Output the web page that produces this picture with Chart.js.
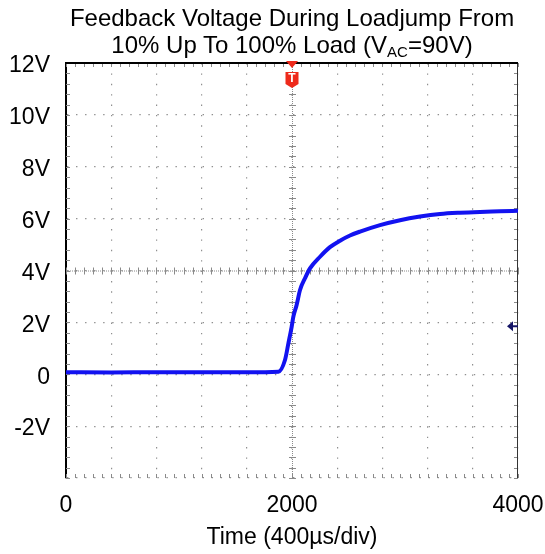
<!DOCTYPE html>
<html>
<head>
<meta charset="utf-8">
<script src="https://cdn.jsdelivr.net/npm/chart.js@4"></script>
<style>
  body { margin: 0; background: #fff; }
  #wrap { position: relative; width: 545px; height: 554px; }
  #title {
    position: absolute; left: -8px; top: 4px; width: 600px;
    text-align: center; white-space: nowrap;
    font-family: "Liberation Sans", Arial, sans-serif; font-size: 24px;
    line-height: 27px; color: #000;
  }
  #title .sub { font-size: 15px; vertical-align: -4px; line-height: 0; }
  canvas { position: absolute; left: 0; top: 0; }
</style>
</head>
<body>
<div id="wrap">
  <canvas id="scope" width="545" height="554"></canvas>
  <div id="title">Feedback Voltage During Loadjump From<br>10% Up To 100% Load (V<span class="sub">AC</span>=90V)</div>
</div>
<script>
const timeValues = [0, 400, 800, 1200, 1600, 1880, 1938, 1968, 1997, 2012, 2041, 2071, 2115, 2159, 2248, 2336, 2425, 2513, 2602, 2779, 2956, 3133, 3310, 3487, 3664, 3841, 4000];
const feedbackVolts = [0.08, 0.07, 0.08, 0.08, 0.08, 0.1, 0.55, 1.19, 1.83, 2.22, 2.67, 3.25, 3.7, 4.08, 4.53, 4.9, 5.15, 5.35, 5.5, 5.75, 5.94, 6.08, 6.18, 6.23, 6.26, 6.28, 6.3];
const xTickLabels = [0, 2000, 4000];
const yTickValues = [-2, 0, 2, 4, 6, 8, 10, 12];
const triggerTime = 2000;
const groundLevel = 1.85;

const fontFamily = '"Liberation Sans", Arial, sans-serif';

// Retícula del osciloscopio: cruz central, marcas de borde y marcadores
const scopePlugin = {
  id: 'scope',
  beforeDatasetsDraw(chart) {
    const { ctx, chartArea: a, scales: { x, y } } = chart;
    const cx = x.getPixelForValue(2000);
    const cy = y.getPixelForValue(4);
    const stepX = (x.getPixelForValue(400) - x.getPixelForValue(0)) / 5;
    const stepY = (y.getPixelForValue(0) - y.getPixelForValue(2)) / 5;
    ctx.save();
    ctx.strokeStyle = '#8a8a8a';
    ctx.lineWidth = 1;
    // cruz central punteada
    ctx.setLineDash([1, 1]);
    ctx.beginPath();
    ctx.moveTo(cx + 0.5, a.top); ctx.lineTo(cx + 0.5, a.bottom);
    ctx.moveTo(a.left, cy + 0.5); ctx.lineTo(a.right, cy + 0.5);
    ctx.stroke();
    ctx.setLineDash([]);
    ctx.beginPath();
    for (let py = a.top; py <= a.bottom + 0.5; py += stepY) {
      const r = Math.round(py) + 0.5;
      ctx.moveTo(cx - 3, r); ctx.lineTo(cx + 4, r);
      ctx.moveTo(a.left, r); ctx.lineTo(a.left + 4, r);
      ctx.moveTo(a.right - 4, r); ctx.lineTo(a.right, r);
    }
    for (let px = a.left; px <= a.right + 0.5; px += stepX) {
      const r = Math.round(px) + 0.5;
      ctx.moveTo(r, cy - 3); ctx.lineTo(r, cy + 4);
      ctx.moveTo(r, a.top); ctx.lineTo(r, a.top + 4);
      ctx.moveTo(r, a.bottom - 4); ctx.lineTo(r, a.bottom);
    }
    ctx.stroke();
    // borde derecho fino
    ctx.strokeStyle = '#333';
    ctx.beginPath();
    ctx.moveTo(a.right - 0.5, a.top); ctx.lineTo(a.right - 0.5, a.bottom);
    ctx.stroke();
    ctx.restore();
  },
  afterDatasetsDraw(chart) {
    const { ctx, chartArea: a, scales: { x, y } } = chart;
    ctx.save();
    // borde superior
    ctx.strokeStyle = '#000';
    ctx.lineWidth = 2;
    ctx.beginPath();
    ctx.moveTo(a.left - 1, a.top); ctx.lineTo(a.right, a.top);
    ctx.stroke();
    // marcador de disparo
    const tx = x.getPixelForValue(triggerTime);
    ctx.fillStyle = '#ee2a1b';
    ctx.beginPath();
    ctx.moveTo(tx - 6, a.top - 2); ctx.lineTo(tx + 6, a.top - 2); ctx.lineTo(tx, a.top + 5);
    ctx.fill();
    ctx.beginPath();
    ctx.moveTo(tx - 6.5, a.top + 9);
    ctx.lineTo(tx + 6.5, a.top + 9);
    ctx.lineTo(tx + 6.5, a.top + 21);
    ctx.lineTo(tx, a.top + 25);
    ctx.lineTo(tx - 6.5, a.top + 21);
    ctx.closePath();
    ctx.fill();
    ctx.fillStyle = '#fff';
    ctx.font = 'bold 12px ' + fontFamily;
    ctx.textAlign = 'center';
    ctx.textBaseline = 'middle';
    ctx.fillText('T', tx, a.top + 16);
    // marcador de nivel de tierra del canal
    const gy = y.getPixelForValue(groundLevel);
    ctx.fillStyle = '#141466';
    ctx.strokeStyle = '#141466';
    ctx.lineWidth = 2;
    ctx.beginPath();
    ctx.moveTo(a.right - 11, gy); ctx.lineTo(a.right - 5, gy - 5); ctx.lineTo(a.right - 5, gy + 5);
    ctx.closePath();
    ctx.fill();
    ctx.beginPath();
    ctx.moveTo(a.right - 6, gy); ctx.lineTo(a.right, gy);
    ctx.stroke();
    ctx.restore();
  }
};

new Chart(document.getElementById('scope').getContext('2d'), {
  type: 'line',
  data: {
    datasets: [{
      data: timeValues.map((t, i) => ({ x: t, y: feedbackVolts[i] })),
      borderColor: 'rgb(18, 18, 240)',
      borderWidth: 4,
      pointRadius: 0,
      cubicInterpolationMode: 'monotone',
      fill: false
    }]
  },
  options: {
    responsive: false,
    animation: false,
    layout: { padding: { top: 63, right: 27, left: 0, bottom: 0 } },
    plugins: { legend: { display: false }, tooltip: { enabled: false } },
    scales: {
      x: {
        type: 'linear', min: 0, max: 4000,
        ticks: {
          stepSize: 400, autoSkip: false, maxRotation: 0, padding: 14,
          color: '#000', font: { size: 23, family: fontFamily },
          callback: v => xTickLabels.includes(v) ? String(v) : ''
        },
        grid: { color: '#8f8f8f', lineWidth: 1.2, drawTicks: false },
        border: { display: false, dash: [1.4, 8.98] },
        title: {
          display: true, text: 'Time (400µs/div)', color: '#000',
          font: { size: 23, family: fontFamily }, padding: { top: 0, bottom: 3 }
        },
        afterFit: s => { s.height = 76; s.paddingRight = 0; s.paddingLeft = 0; }
      },
      y: {
        min: -4, max: 12,
        ticks: {
          stepSize: 2, padding: 16, labelOffset: 3,
          color: '#000', font: { size: 23, family: fontFamily },
          callback: v => yTickValues.includes(v) ? (v === 0 ? '0' : v + 'V') : ''
        },
        grid: { color: '#8f8f8f', lineWidth: 1.2, drawTicks: false },
        border: { display: true, color: '#000', width: 2, dash: [1.4, 7.64] },
        afterFit: s => { s.width = 66; }
      }
    }
  },
  plugins: [scopePlugin]
});
</script>
</body>
</html>
